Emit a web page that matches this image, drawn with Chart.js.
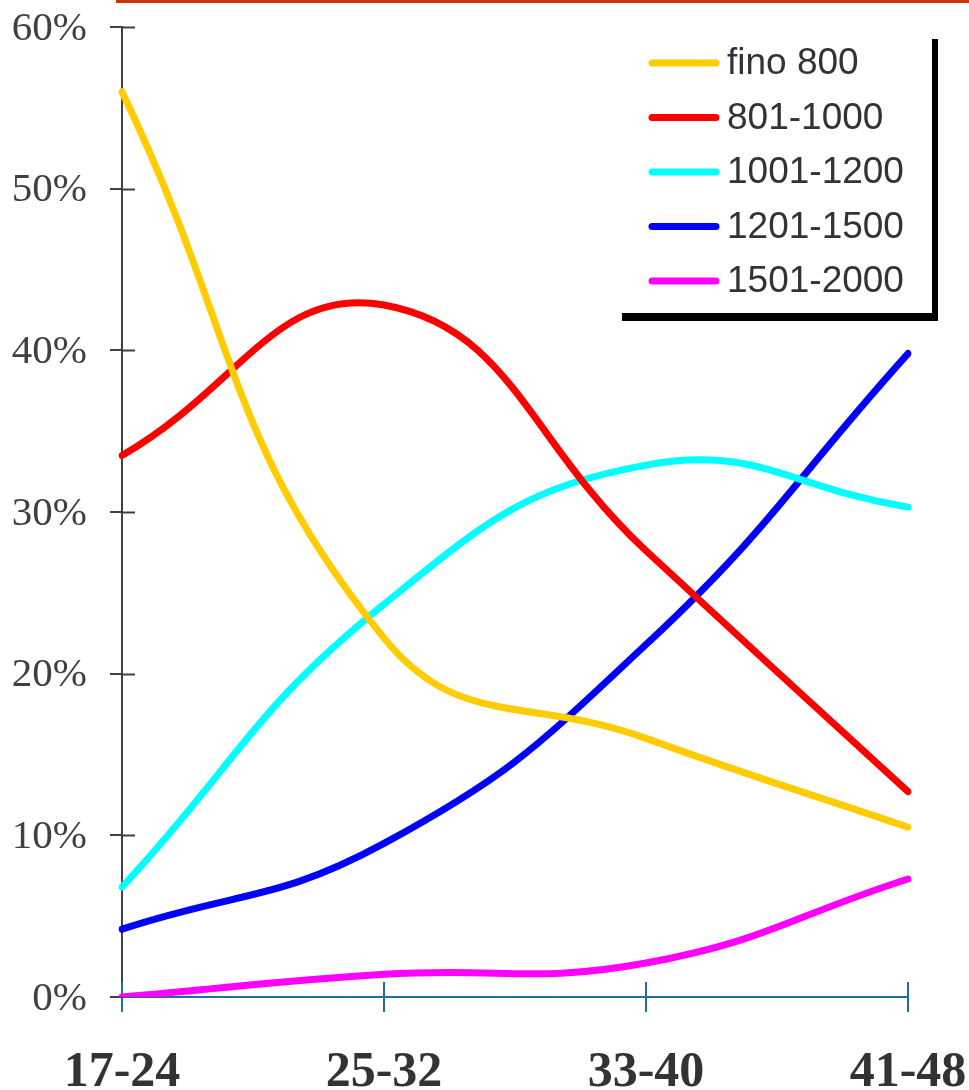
<!DOCTYPE html>
<html>
<head>
<meta charset="utf-8">
<script src="https://cdn.jsdelivr.net/npm/chart.js@4.4.1/dist/chart.umd.min.js"></script>
<style>
  html, body { margin: 0; padding: 0; background: #ffffff; }
  #wrap { position: relative; width: 969px; height: 1090px; }
</style>
</head>
<body>
<div id="wrap"><canvas id="chart"></canvas></div>
<script>
// Age bands on the horizontal axis
const ageBands = ['17-24', '25-32', '33-40', '41-48'];

// Share (%) of each income band per age band
const fino800   = [56.0, 22.2, 16.0, 10.5];
const da801     = [33.5, 42.8, 27.6, 12.7];
const da1001    = [6.8, 24.3, 32.9, 30.3];
const da1201    = [4.2, 9.5, 21.8, 39.8];
const da1501    = [0.0, 1.4, 2.1, 7.3];

const seriesLabels = ['fino 800', '801-1000', '1001-1200', '1201-1500', '1501-2000'];
const seriesColors = ['#FFCC00', '#FF0000', '#00FFFF', '#0000FF', '#FF00FF'];
const seriesValues = [fino800, da801, da1001, da1201, da1501];

// Y axis tick values (percent)
const yTicks = [0, 10, 20, 30, 40, 50, 60];

const AXIS_GREY = '#404040';
const AXIS_BLUE = '#1F6FA0';

// Decorations: header rule, inner half of the tick marks
const frame = {
  id: 'frame',
  beforeDatasetsDraw(chart) {
    const { ctx, scales: { x, y } } = chart;
    ctx.save();
    ctx.lineWidth = 2;
    ctx.strokeStyle = AXIS_GREY;
    yTicks.forEach(v => {
      if (v === 0) return;
      const py = Math.round(y.getPixelForValue(v)) + 0.5;
      ctx.beginPath();
      ctx.moveTo(x.left, py);
      ctx.lineTo(x.left + 13, py);
      ctx.stroke();
    });
    ctx.strokeStyle = AXIS_BLUE;
    ageBands.forEach((_, i) => {
      const px = Math.round(x.getPixelForValue(i));
      ctx.beginPath();
      ctx.moveTo(px, y.bottom);
      ctx.lineTo(px, y.bottom - 15);
      ctx.stroke();
    });
    ctx.restore();
  },
  afterDraw(chart) {
    const { ctx } = chart;
    ctx.save();
    ctx.fillStyle = '#CC3300';
    ctx.fillRect(116, 0, chart.width - 116, 3);
    ctx.restore();
  }
};

// Legend panel with a drop shadow on its right and bottom edges
const legendPanel = {
  id: 'legendPanel',
  afterDraw(chart) {
    const { ctx } = chart;
    ctx.save();
    ctx.fillStyle = '#ffffff';
    ctx.fillRect(616, 33, 316, 280);
    ctx.fillStyle = '#000000';
    ctx.fillRect(932, 39, 6, 282);
    ctx.fillRect(622, 313, 316, 8);
    chart.data.datasets.forEach((ds, i) => {
      const cy = 63 + i * 54.5;
      ctx.strokeStyle = ds.borderColor;
      ctx.lineWidth = 7;
      ctx.lineCap = 'round';
      ctx.beginPath();
      ctx.moveTo(652, cy);
      ctx.lineTo(716, cy);
      ctx.stroke();
      ctx.fillStyle = '#333333';
      ctx.font = '37px "Liberation Sans", Arial, sans-serif';
      ctx.textBaseline = 'middle';
      ctx.textAlign = 'left';
      ctx.fillText(ds.label, 727, cy + 1);
    });
    ctx.restore();
  }
};

new Chart(document.getElementById('chart'), {
  type: 'line',
  data: {
    labels: ageBands,
    datasets: seriesValues.map((vals, i) => ({
      label: seriesLabels[i],
      data: vals,
      borderColor: seriesColors[i],
      backgroundColor: seriesColors[i],
      borderWidth: 7,
      borderCapStyle: 'round',
      borderJoinStyle: 'round',
      pointRadius: 0,
      pointHoverRadius: 0,
      tension: 0.45,
      fill: false
    }))
  },
  options: {
    responsive: true,
    maintainAspectRatio: false,
    animation: false,
    events: [],
    layout: { padding: { top: 27, right: 61, left: 0, bottom: 0 } },
    plugins: {
      legend: { display: false },
      tooltip: { enabled: false },
      title: { display: false }
    },
    scales: {
      x: {
        offset: false,
        afterFit(scale) {
          scale.height = 93;
          scale.paddingLeft = 0;
          scale.paddingRight = 0;
        },
        border: { display: true, color: AXIS_BLUE, width: 2 },
        grid: { display: true, drawOnChartArea: false, drawTicks: true, tickLength: 15, color: AXIS_BLUE, lineWidth: 2 },
        ticks: {
          color: '#333333',
          padding: 31,
          maxRotation: 0,
          autoSkip: false,
          font: { family: '"Liberation Serif", "Times New Roman", serif', size: 50, weight: 'bold' }
        }
      },
      y: {
        min: 0,
        max: 60,
        afterFit(scale) {
          scale.width = 122;
          scale.paddingTop = 0;
          scale.paddingBottom = 0;
        },
        afterBuildTicks(scale) { scale.ticks = yTicks.map(v => ({ value: v })); },
        border: { display: true, color: AXIS_GREY, width: 2 },
        grid: { display: true, drawOnChartArea: false, drawTicks: true, tickLength: 12, color: AXIS_GREY, lineWidth: 2 },
        ticks: {
          color: AXIS_GREY,
          padding: 23,
          labelOffset: 2,
          callback: v => v + '%',
          font: { family: '"Liberation Serif", "Times New Roman", serif', size: 41 }
        }
      }
    }
  },
  plugins: [frame, legendPanel]
});
</script>
</body>
</html>
